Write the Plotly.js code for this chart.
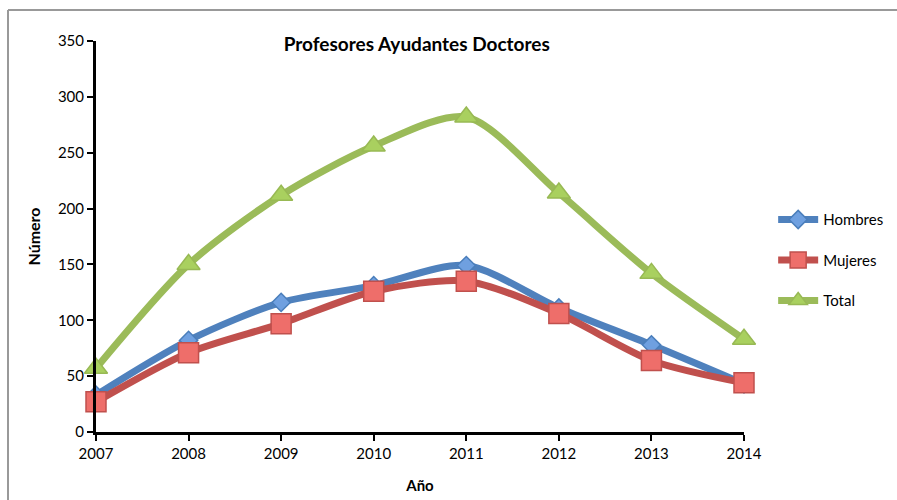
<!DOCTYPE html>
<html><head><meta charset="utf-8">
<script src="https://cdn.plot.ly/plotly-3.0.1.min.js"></script>
<style>body{margin:0;padding:0;background:#fff}#chart{width:897px;height:500px}</style>
</head><body><div id="chart"></div>
<script>
const years = [2007, 2008, 2009, 2010, 2011, 2012, 2013, 2014];
const hombres = [33, 82, 116, 131, 149, 111, 78, 43];
const mujeres = [27, 71, 97, 126, 135, 106, 64, 44];
const total = [57, 150, 212, 256, 282, 214, 142, 83];
const yTicks = [0, 50, 100, 150, 200, 250, 300, 350];

const font = "Lato, 'Open Sans', sans-serif";

function tr(name, y, color, sym, msize, mcolor, mline, grp) {
  return {
    x: years, y: y, name: name, type: 'scatter', mode: 'lines+markers',
    legendgroup: grp, cliponaxis: false,
    line: {color: color, width: 7, shape: 'spline', smoothing: 0.8},
    marker: {symbol: sym, size: msize, color: mcolor, line: {color: mline, width: 1.5}}
  };
}
const data = [
  tr('Hombres', hombres, '#4F81BD', 'diamond', 14, '#6FA0E0', '#4A7EBB', 'a'),
  tr('Mujeres', mujeres, '#C0504D', 'square', 20, '#EE6E6A', '#C0504D', 'b'),
  tr('Total', total, '#9BBB59', 'triangle-up', 20, '#A9D05F', '#98B954', 'c')
];

const layout = {
  width: 897, height: 500,
  margin: {l: 96, r: 153, t: 41, b: 68, autoexpand: false},
  paper_bgcolor: '#fff', plot_bgcolor: '#fff',
  font: {family: font, color: '#000', size: 14},
  title: {text: '<b>Profesores Ayudantes Doctores</b>', font: {family: font, size: 19, color: '#000'},
          x: 0.495, xref: 'paper', xanchor: 'center', y: 0.912, yanchor: 'middle'},
  xaxis: {
    range: [2007, 2014], tickvals: years, ticktext: years.map(String),
    showgrid: false, zeroline: false, showline: true, linecolor: '#000', linewidth: 3,
    ticks: 'outside', ticklen: 6, tickwidth: 2, tickcolor: '#000',
    tickfont: {family: font, size: 15},
    title: {text: '<b>Año</b>', font: {family: font, size: 15}, standoff: 20}
  },
  yaxis: {
    range: [0, 350], tickvals: yTicks,
    showgrid: false, zeroline: false, showline: true, linecolor: '#000', linewidth: 3,
    ticks: 'outside', ticklen: 6, tickwidth: 2, tickcolor: '#000',
    tickfont: {family: font, size: 15},
    title: {text: '<b>Número</b>', font: {family: font, size: 16}, standoff: 14}
  },
  legend: {x: 1.045, y: 0.585, xanchor: 'left', yanchor: 'top', font: {family: font, size: 15},
           tracegroupgap: 18, itemwidth: 40, bgcolor: 'rgba(0,0,0,0)'},
  shapes: [
    {type: 'line', xref: 'paper', yref: 'paper', x0: (8-96)/648, x1: (897-96)/648, y0: (432-10)/391, y1: (432-10)/391,
     line: {color: '#999', width: 2}},
    {type: 'line', xref: 'paper', yref: 'paper', x0: (8-96)/648, x1: (8-96)/648, y0: (432-10)/391, y1: (432-500)/391,
     line: {color: '#999', width: 2}}
  ]
};
Plotly.newPlot('chart', data, layout, {displayModeBar: false, staticPlot: true});
</script></body></html>
